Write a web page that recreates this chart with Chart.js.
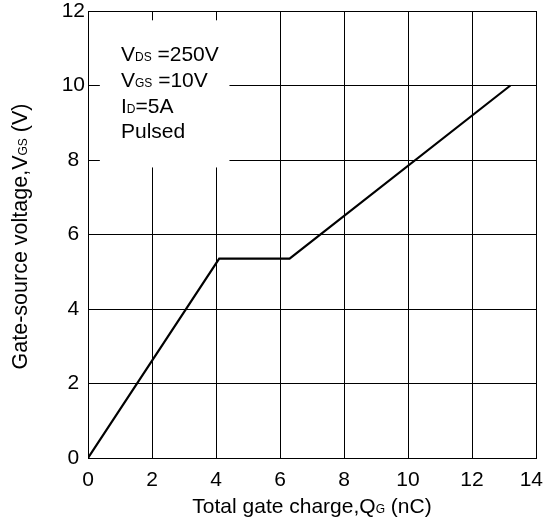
<!DOCTYPE html>
<html>
<head>
<meta charset="utf-8">
<script src="https://cdn.jsdelivr.net/npm/chart.js@4.4.1/dist/chart.umd.min.js"></script>
<style>
  html, body { margin: 0; padding: 0; background: #fff; }
  #wrap { width: 543px; height: 522px; }
</style>
</head>
<body>
<div id="wrap"><canvas id="myChart"></canvas></div>
<script>
// gate charge curve
const chargeNC = [0, 4.1, 6.3, 13.2];
const gateVolts = [0, 5.35, 5.35, 10];
const xTicks = [0, 2, 4, 6, 8, 10, 12, 14];
const yTicks = [0, 2, 4, 6, 8, 10, 12];
const conditions = [
  ['V', 'DS', ' =250V'],
  ['V', 'GS', ' =10V'],
  ['I', 'D', '=5A'],
  ['Pulsed', '', '']
];

const FONT = '"Liberation Sans", Arial, sans-serif';
const MAIN = 21;
const SUB = 12;

// draws "main + small subscript + rest" on one baseline, returns width
function richText(c, x, y, parts, measureOnly, main) {
  let cx = x;
  const sizes = [main || MAIN, SUB, main || MAIN];
  parts.forEach((p, i) => {
    if (!p) return;
    c.font = sizes[i] + 'px ' + FONT;
    if (!measureOnly) c.fillText(p, cx, y);
    cx += c.measureText(p).width;
  });
  return cx - x;
}

const extras = {
  id: 'extras',
  afterDraw(chart) {
    const c = chart.ctx;
    const a = chart.chartArea;
    c.save();
    c.fillStyle = '#000';
    c.textBaseline = 'alphabetic';
    c.textAlign = 'left';

    // x title
    const xt = ['Total gate charge,Q', 'G', ' (nC)'];
    let w = richText(c, 0, 0, xt, true);
    richText(c, (a.left + a.right) / 2 - w / 2, 513, xt);

    // y title, rotated
    const yt = ['Gate-source voltage,V', 'GS', ' (V)'];
    w = richText(c, 0, 0, yt, true, 21.5);
    c.translate(27, (a.top + a.bottom) / 2 + 2);
    c.rotate(-Math.PI / 2);
    richText(c, -w / 2, 0, yt, false, 21.5);
    c.restore();
  },
  beforeDatasetsDraw(chart) {
    // white note box over the grid, text inside
    const c = chart.ctx;
    const sx = chart.scales.x, sy = chart.scales.y;
    const x0 = sx.getPixelForValue(0.37), x1 = sx.getPixelForValue(4.42);
    const y0 = sy.getPixelForValue(11.75), y1 = sy.getPixelForValue(7.8);
    c.save();
    c.fillStyle = '#fff';
    c.fillRect(x0, y0, x1 - x0, y1 - y0);
    c.fillStyle = '#000';
    c.textBaseline = 'alphabetic';
    c.textAlign = 'left';
    const tx = sx.getPixelForValue(1.03);
    let ty = 61;
    conditions.forEach(line => {
      richText(c, tx, ty, line);
      ty += 25.8;
    });
    c.restore();
  }
};

// keep the last x label ("14") inside the canvas, like the original
function fitLastLabel(s) {
  if (s._lastFixed) return;
  const orig = s._computeLabelItems.bind(s);
  s._computeLabelItems = area => {
    const items = orig(area);
    const last = items[items.length - 1];
    if (last) {
      last.options.textAlign = 'right';
      last.options.translation = [543, last.options.translation[1]];
    }
    return items;
  };
  s._lastFixed = true;
}

const ctx = document.getElementById('myChart');
new Chart(ctx, {
  type: 'line',
  data: {
    datasets: [{
      data: chargeNC.map((q, i) => ({ x: q, y: gateVolts[i] })),
      borderColor: '#000',
      borderWidth: 2.2,
      pointRadius: 0,
      fill: false,
      tension: 0
    }]
  },
  options: {
    responsive: true,
    maintainAspectRatio: false,
    animation: false,
    layout: { padding: { top: 11, right: 7, left: 0, bottom: 0 } },
    plugins: { legend: { display: false }, tooltip: { enabled: false } },
    scales: {
      x: {
        type: 'linear',
        min: 0, max: 14,
        afterBuildTicks: s => { s.ticks = xTicks.map(v => ({ value: v })); },
        afterFit: s => { s.height = 64; s.paddingLeft = 0; s.paddingRight = 0; fitLastLabel(s); },
        grid: { color: '#000', lineWidth: 1, drawTicks: false },
        border: { color: '#000', width: 1 },
        ticks: { color: '#000', padding: 10, maxRotation: 0, font: { family: FONT, size: MAIN } }
      },
      y: {
        type: 'linear',
        min: 0, max: 12,
        afterBuildTicks: s => { s.ticks = yTicks.map(v => ({ value: v })); },
        afterFit: s => { s.width = 88; s.paddingTop = 0; s.paddingBottom = 0; },
        grid: { color: '#000', lineWidth: 1, drawTicks: false },
        border: { color: '#000', width: 1 },
        ticks: { color: '#000', padding: 3, crossAlign: 'center', font: { family: FONT, size: MAIN } }
      }
    }
  },
  plugins: [extras]
});
</script>
</body>
</html>
